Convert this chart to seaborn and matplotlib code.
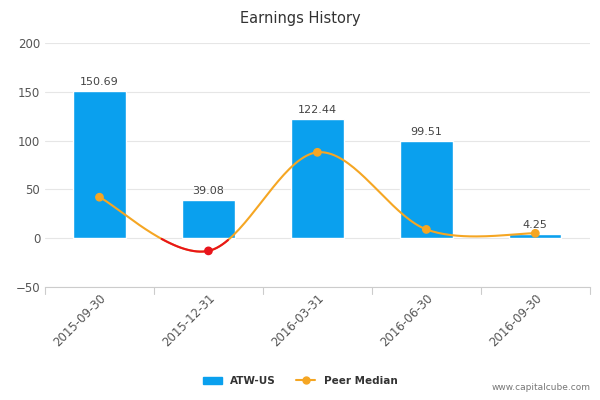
import numpy as np
import matplotlib.pyplot as plt
import seaborn as sns
import pandas as pd

dates = ["2015-09-30", "2015-12-31", "2016-03-31", "2016-06-30", "2016-09-30"]
atw = [150.69, 39.08, 122.44, 99.51, 4.25]
peer = [42, -13, 88, 9, 5]

sns.set_style("white")
fig = plt.figure(figsize=(6, 4), dpi=100)
ax = fig.add_axes([0.075, 0.2825, 0.908, 0.61])

df = pd.DataFrame({"date": dates, "value": atw})
sns.barplot(data=df, x="date", y="value", color="#0aa0ee", saturation=1, width=0.48, ax=ax, zorder=2)
for i, v in enumerate(atw):
    ax.text(i, v + 4, f"{v:.2f}", ha="center", va="bottom", fontsize=8, color="#444444")

# smooth curve through the peer points (Catmull-Rom rendering)
x = np.arange(len(peer), dtype=float)
y = np.array(peer, dtype=float)
px = np.concatenate([[x[0]], x, [x[-1]]])
py = np.concatenate([[y[0]], y, [y[-1]]])
xs, ys = [], []
for i in range(1, len(px) - 2):
    t = np.linspace(0, 1, 40)
    for arr, out in ((px, xs), (py, ys)):
        p0, p1, p2, p3 = arr[i - 1], arr[i], arr[i + 1], arr[i + 2]
        out.extend(0.5 * (2 * p1 + (-p0 + p2) * t + (2 * p0 - 5 * p1 + 4 * p2 - p3) * t**2
                          + (-p0 + 3 * p1 - 3 * p2 + p3) * t**3))
xs, ys = np.array(xs), np.array(ys)
ax.plot(xs, ys, color="#f5a623", lw=1.5, zorder=3)
ax.plot(xs, np.where(ys < 0, ys, np.nan), color="#e8141c", lw=1.5, zorder=4)
cols = ["#e8141c" if v < 0 else "#f5a623" for v in peer]
ax.scatter(x, y, color=cols, s=28, zorder=5)

ax.set_ylim(-50, 200)
ax.set_yticks([-50, 0, 50, 100, 150, 200])
ax.set_xlim(-0.5, 4.5)
ax.yaxis.grid(True, color="#e6e6e6", lw=0.8)
ax.set_axisbelow(True)
for s in ["top", "right", "left"]:
    ax.spines[s].set_visible(False)
ax.spines["bottom"].set_color("#cccccc")
ax.set_xlabel("")
ax.set_ylabel("")
ax.tick_params(axis="y", length=0, labelsize=8.5, labelcolor="#555555")
ax.tick_params(axis="x", length=0, labelsize=8.5, labelcolor="#555555")
plt.setp(ax.get_xticklabels(), rotation=45, ha="right", rotation_mode="anchor")
for b in np.arange(-0.5, 5, 1):
    ax.plot([b, b], [-50, -57], color="#cccccc", lw=0.8, clip_on=False)

fig.text(0.5, 0.955, "Earnings History", ha="center", va="center", fontsize=10.5, color="#333333")

from matplotlib.patches import Patch
from matplotlib.lines import Line2D
handles = [Patch(color="#0aa0ee", label="ATW-US"),
           Line2D([0], [0], color="#f5a623", marker="o", markersize=5, label="Peer Median")]
fig.legend(handles=handles, loc="center", bbox_to_anchor=(0.5, 0.048), ncol=2, frameon=False,
           prop={"size": 7.5, "weight": "bold"}, labelcolor="#333333", handlelength=1.8)
fig.text(0.985, 0.02, "www.capitalcube.com", ha="right", va="bottom", fontsize=6.5, color="#777777")

fig.savefig("out.png")
